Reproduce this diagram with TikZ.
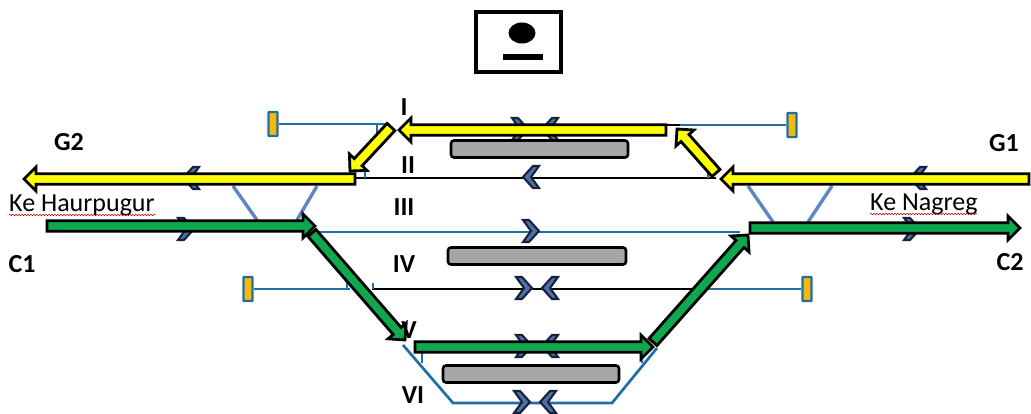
\documentclass[tikz,border=0pt]{standalone}
\usepackage{fontspec}
\setmainfont{Carlito}
\usetikzlibrary{calc,shapes.geometric,decorations.pathmorphing}

\definecolor{trackblue}{HTML}{1F6FA6}
\definecolor{crossblue}{HTML}{5F86C4}
\definecolor{chevblue}{HTML}{4F6FA8}
\definecolor{chevdark}{HTML}{16233A}
\definecolor{stopfill}{HTML}{F2B90F}
\definecolor{platgrey}{HTML}{A6A6A6}
\definecolor{routegreen}{HTML}{0FA84F}
\definecolor{routeyellow}{HTML}{FFFF00}

\newcommand{\routearrow}[3]{%
  \coordinate (h) at ($(#3)!12pt!(#2)$);
  \draw[route line,fill=#1] ($(#2)!5.3pt!90:(#3)$) -- ($(h)!5.3pt!90:(#3)$) -- ($(h)!12pt!90:(#3)$) -- (#3)
    -- ($(h)!12pt!-90:(#3)$) -- ($(h)!5.3pt!-90:(#3)$) -- ($(#2)!5.3pt!-90:(#3)$) -- cycle;
}

\begin{document}
\begin{tikzpicture}[x=1pt,y=-1pt,
    track line/.style={draw=trackblue,line width=2.7pt},
    black line/.style={draw=black,line width=2.8pt},
    cross line/.style={draw=crossblue,line width=3.4pt},
    route line/.style={draw=black,line width=2.8pt,miter limit=6},
    wave line/.style={draw=red!75!black,line width=0.5pt,decorate,decoration={snake,amplitude=0.8pt,segment length=3pt}},
    stop node/.style={draw=trackblue,fill=stopfill,line width=2.4pt,rounded corners=0.5pt,minimum width=9pt,minimum height=24pt,inner sep=0pt},
    plat node/.style={draw=black,fill=platgrey,line width=2.6pt,rounded corners=3pt,minimum height=17pt,inner sep=0pt},
    num node/.style={font=\bfseries\fontsize{26}{28}\selectfont,inner sep=0pt},
    place node/.style={font=\fontsize{26}{28}\selectfont,inner sep=0pt},
    chev r/.pic={\draw[fill=chevblue,draw=chevdark,line width=2.1pt,miter limit=4] (-8,-11) -- (-2,-11) -- (8,0) -- (-2,11) -- (-8,11) -- (0,0) -- cycle;},
    chev l/.pic={\draw[fill=chevblue,draw=chevdark,line width=2.1pt,miter limit=4] (8,-11) -- (2,-11) -- (-8,0) -- (2,11) -- (8,11) -- (0,0) -- cycle;}]

    \useasboundingbox (0,0) rectangle (1031,414);

    \node[draw=black,line width=3.4pt,minimum width=85pt,minimum height=60pt,inner sep=0pt] (station) at (518.5,42) {};
    \node[ellipse,fill=black,minimum width=27pt,minimum height=21pt,inner sep=0pt] (stationdot) at (522,33) {};
    \node[fill=black,minimum width=40pt,minimum height=6pt,inner sep=0pt] (stationbar) at (523,57) {};

    \node[stop node] (stop1) at (273,124) {};
    \node[stop node] (stop2) at (792,125) {};
    \node[stop node] (stop3) at (248,289) {};
    \node[stop node] (stop4) at (807,289) {};

    \coordinate (a1) at (388,124);
    \coordinate (a2) at (667,125);
    \coordinate (a3) at (680,125);
    \coordinate (b1) at (355,178);
    \coordinate (b2) at (687,178);
    \coordinate (b3) at (716,178);
    \coordinate (c1) at (317,232);
    \coordinate (c2) at (740,232);
    \coordinate (d1) at (350,289);
    \coordinate (d2) at (372,289);
    \coordinate (d3) at (693,289);
    \coordinate (d4) at (708,289);
    \coordinate (e1) at (403,345);
    \coordinate (e2) at (453,403);
    \coordinate (e3) at (612,403);
    \coordinate (e4) at (657,348);

    \draw[track line] (stop1) -- (a1);
    \draw[track line] (a3) -- (stop2);
    \draw[black line] (a2) -- (a3);
    \draw[black line] (b1) -- (b2);
    \draw[black line,line width=1.6pt] (b2) -- (b3);
    \draw[track line] (c1) -- (c2);
    \draw[track line] (stop3) -- (d1);
    \draw[black line] (d2) -- (d3);
    \draw[track line] (d4) -- (stop4);
    \draw[track line] (e1) -- (e2) -- (e3) -- (e4);

    \draw[track line] (377,124) -- ++(0,9);
    \draw[track line] (365,168) -- ++(0,10);
    \draw[track line] (708,172) -- ++(0,6);
    \draw[track line] (347,289) -- ++(0,-6);
    \draw[track line] (373,289) -- ++(0,-6);
    \draw[track line] (422,353) -- ++(0,10);
    \draw[track line] (642,353) -- ++(0,10);

    \coordinate (x1) at (233,186);
    \coordinate (x2) at (257,220);
    \coordinate (x3) at (317,186);
    \coordinate (x4) at (297,220);
    \coordinate (x5) at (748,186);
    \coordinate (x6) at (773,222);
    \coordinate (x7) at (832,186);
    \coordinate (x8) at (808,222);
    \draw[cross line] (x1) -- (x2);
    \draw[cross line] (x3) -- (x4);
    \draw[cross line] (x5) -- (x6);
    \draw[cross line] (x7) -- (x8);

    \pic at (520,129) {chev r};
    \pic at (550,129) {chev l};
    \pic at (531,177) {chev l};
    \pic at (531,231) {chev r};
    \pic at (524,288) {chev r};
    \pic at (550,288) {chev l};
    \pic at (524,346) {chev r};
    \pic at (550,346) {chev l};
    \pic at (522,402) {chev r};
    \pic at (548,402) {chev l};
    \pic at (191,178) {chev l};
    \pic at (186,229) {chev r};
    \pic at (918,178) {chev l};
    \pic at (912,229) {chev r};

    \node[plat node,minimum width=177pt] (plat1) at (539.5,149) {};
    \node[plat node,minimum width=178pt] (plat2) at (537,256) {};
    \node[plat node,minimum width=176pt] (plat3) at (531,374) {};

    \coordinate (g1t) at (1029,179);
    \coordinate (g1h) at (721,179);
    \coordinate (g1u) at (716,173);
    \coordinate (g1v) at (677,129);
    \coordinate (g2t) at (666,130);
    \coordinate (g2h) at (399,130);
    \coordinate (g2u) at (391,127);
    \coordinate (g2v) at (350,171);
    \coordinate (g3t) at (355,179);
    \coordinate (g3h) at (24,179);
    \routearrow{routeyellow}{g1t}{g1h}
    \routearrow{routeyellow}{g1u}{g1v}
    \routearrow{routeyellow}{g2t}{g2h}
    \routearrow{routeyellow}{g2u}{g2v}
    \routearrow{routeyellow}{g3t}{g3h}

    \coordinate (c1t) at (47,226);
    \coordinate (c1h) at (315,226);
    \coordinate (c2t) at (312,233);
    \coordinate (c2h) at (405,340);
    \coordinate (c3t) at (415,347);
    \coordinate (c3h) at (653,347);
    \coordinate (c4t) at (653,342);
    \coordinate (c4h) at (748,235);
    \coordinate (c5t) at (750,228);
    \coordinate (c5h) at (1020,228);
    \routearrow{routegreen}{c1t}{c1h}
    \routearrow{routegreen}{c2t}{c2h}
    \routearrow{routegreen}{c3t}{c3h}
    \routearrow{routegreen}{c4t}{c4h}
    \routearrow{routegreen}{c5t}{c5h}

    \node[num node] (labelG2) at (69,142) {G2};
    \node[num node] (labelG1) at (1004,143) {G1};
    \node[num node] (labelC1) at (22,264) {C1};
    \node[num node] (labelC2) at (1010,262) {C2};
    \node[num node] (track1) at (404,107) {I};
    \node[num node] (track2) at (408,165) {II};
    \node[num node] (track3) at (404,207) {III};
    \node[num node] (track4) at (404,264) {IV};
    \node[num node] (track5) at (409,330) {V};
    \node[num node] (track6) at (413,395) {VI};

    \node[place node,anchor=base west] (haur) at (9,212) {Ke Haurpugur};
    \node[place node,anchor=base west] (nagr) at (870,211) {Ke Nagreg};
    \draw[wave line] (haur.base west) ++(0,3) -- ++(147,0);
    \draw[wave line] (nagr.base west) ++(0,3) -- ++(107,0);
\end{tikzpicture}
\end{document}
